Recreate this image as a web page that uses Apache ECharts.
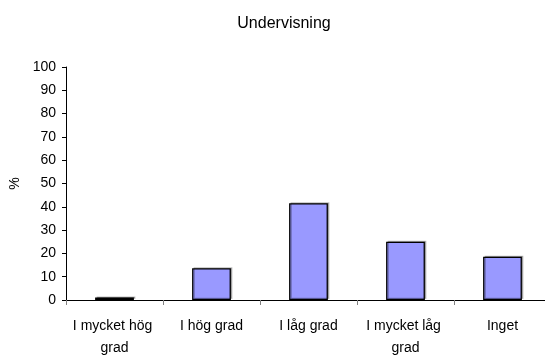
<!DOCTYPE html>
<html>
<head>
<meta charset="utf-8">
<script src="https://cdn.jsdelivr.net/npm/echarts@6/dist/echarts.min.js"></script>
<style>
  html, body { margin: 0; padding: 0; background: #fff; }
  #chart { width: 545px; height: 356px; }
</style>
</head>
<body>
<div id="chart"></div>
<script>
// Andel svar per kategori (%)
const categories = ['I mycket hög grad', 'I hög grad', 'I låg grad', 'I mycket låg grad', 'Inget'];
const values = [1.1, 13.6, 41.5, 25.0, 18.6];
const yTicks = { min: 0, max: 100, interval: 10 };
const titleText = 'Undervisning';
const yName = '%';

const font = 'Liberation Sans, Arial, sans-serif';
const chart = echarts.init(document.getElementById('chart'), null, { renderer: 'canvas' });

chart.setOption({
  animation: false,
  backgroundColor: '#ffffff',
  title: {
    text: titleText,
    left: 279,
    textAlign: 'center',
    top: 11,
    textStyle: { fontFamily: font, fontSize: 16, fontWeight: 'normal', color: '#000' }
  },
  // fixed plot rectangle; the last category slot runs slightly past the right edge
  grid: { left: 66, right: -6, top: 67, bottom: 56, containLabel: false, outerBoundsMode: 'none' },
  xAxis: {
    type: 'category',
    data: categories,
    axisLine: { lineStyle: { color: '#000', width: 1 } },
    axisTick: { show: true, alignWithLabel: false, length: 5, lineStyle: { color: '#808080' } },
    axisLabel: {
      fontFamily: font, fontSize: 14, color: '#000', margin: 15,
      lineHeight: 22, width: 92, overflow: 'break', interval: 0
    }
  },
  yAxis: {
    type: 'value',
    min: yTicks.min, max: yTicks.max, interval: yTicks.interval,
    name: yName,
    nameLocation: 'middle',
    nameGap: 43,
    nameRotate: 90,
    nameTextStyle: { fontFamily: font, fontSize: 14, color: '#000' },
    axisLine: { show: true, lineStyle: { color: '#000', width: 1 } },
    axisTick: { show: true, length: 4, lineStyle: { color: '#000' } },
    axisLabel: { fontFamily: font, fontSize: 14, color: '#000', margin: 10 },
    splitLine: { show: false }
  },
  series: [{
    type: 'bar',
    data: values,
    barWidth: '40%',
    itemStyle: {
      color: '#9999FF',
      borderColor: '#000',
      borderWidth: 1.3,
      shadowColor: 'rgba(0,0,0,0.25)',
      shadowOffsetX: 1.5,
      shadowOffsetY: -1
    }
  }]
});
</script>
</body>
</html>
